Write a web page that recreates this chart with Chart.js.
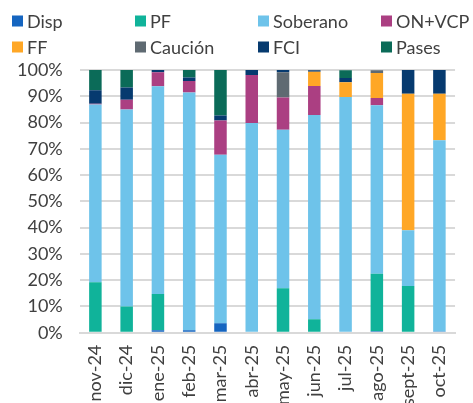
<!DOCTYPE html>
<html>
<head>
<meta charset="utf-8">
<script src="https://cdn.jsdelivr.net/npm/chart.js@4/dist/chart.umd.min.js"></script>
<style>
  html, body { margin: 0; padding: 0; background: #fff; overflow: hidden; }
  #wrap { position: absolute; left: 0; top: 0; width: 473px; height: 418px; }
</style>
</head>
<body>
<div id="wrap"><canvas id="chart"></canvas></div>
<script>
// categories (months)
const months = ["nov-24", "dic-24", "ene-25", "feb-25", "mar-25", "abr-25",
  "may-25", "jun-25", "jul-25", "ago-25", "sept-25", "oct-25"];

// share of each instrument, % of total (bottom to top)
const disp     = [0, 0, 0.9, 0.9, 3.6, 0, 0, 0, 0, 0.6, 0, 0.5];
const pf       = [19.2, 10, 13.8, 0, 0, 0, 16.9, 5.1, 0, 21.8, 17.8, 0];
const soberano = [67.7, 75, 79.1, 90.5, 64.1, 79.8, 60.4, 77.8, 89.7, 64.2, 21.2, 72.8];
const onVcp    = [0.3, 3.7, 5.3, 4.4, 13.1, 18.3, 12.2, 11, 0, 2.7, 0, 0];
const ff       = [0, 0, 0, 0, 0, 0, 0, 5.4, 5.6, 9.6, 52, 17.7];
const caucion  = [0, 0, 0, 0, 0, 0, 9.6, 0, 0, 1, 0, 0];
const fci      = [5.1, 4.6, 0.9, 1.3, 1.9, 1.9, 0.9, 0.6, 1.7, 0, 9, 9];
const pases    = [7.7, 6.7, 0, 2.9, 17.3, 0, 0, 0, 2.9, 0, 0, 0];

// y axis ticks
const yTicks = [0, 10, 20, 30, 40, 50, 60, 70, 80, 90, 100];

const FONT = "Lato, 'Open Sans', sans-serif";
const TEXT = "#404040";

const series = [
  { label: "Disp", data: disp, color: "#1565c0" },
  { label: "PF", data: pf, color: "#10b39a" },
  { label: "Soberano", data: soberano, color: "#6ec3ea" },
  { label: "ON+VCP", data: onVcp, color: "#ab3f82" },
  { label: "FF", data: ff, color: "#ffa726" },
  { label: "Caución", data: caucion, color: "#5f6a72" },
  { label: "FCI", data: fci, color: "#063a6f" },
  { label: "Pases", data: pases, color: "#0b6b58" },
];

// legend drawn as a 4-column grid
const gridLegend = {
  id: "gridLegend",
  afterDraw(chart) {
    const ctx = chart.ctx;
    ctx.save();
    ctx.font = "18px " + FONT;
    ctx.textBaseline = "middle";
    chart.data.datasets.forEach((ds, i) => {
      const col = i % 4;
      const row = Math.floor(i / 4);
      const x = 12 + col * 123;
      const y = 21 + row * 26;
      ctx.fillStyle = ds.backgroundColor;
      ctx.fillRect(x, y - 5.5, 11, 11);
      ctx.fillStyle = TEXT;
      ctx.fillText(ds.label, x + 15, y + 1);
    });
    ctx.restore();
  }
};

const ctx = document.getElementById("chart").getContext("2d");
new Chart(ctx, {
  type: "bar",
  data: {
    labels: months,
    datasets: series.map((s) => ({
      label: s.label,
      data: s.data,
      backgroundColor: s.color,
      borderWidth: 0,
      categoryPercentage: 1,
      barPercentage: 0.4,
    })),
  },
  options: {
    responsive: true,
    maintainAspectRatio: false,
    animation: false,
    layout: { padding: { top: 70, right: 0, left: 0, bottom: 0 } },
    plugins: {
      legend: { display: false },
      tooltip: { enabled: false },
    },
    scales: {
      x: {
        stacked: true,
        grid: { display: false, drawTicks: false },
        border: { color: "#d9d9d9", width: 2 },
        ticks: {
          color: TEXT,
          font: { family: FONT, size: 18 },
          minRotation: 90,
          maxRotation: 90,
          padding: 12,
          autoSkip: false,
        },
      },
      y: {
        stacked: true,
        min: 0,
        max: 100,
        afterBuildTicks: (axis) => {
          axis.ticks = yTicks.map((v) => ({ value: v }));
        },
        grid: { color: "#d9d9d9", lineWidth: 2, drawTicks: false },
        border: { display: false },
        ticks: {
          color: TEXT,
          font: { family: FONT, size: 18 },
          padding: 17,
          callback: (v) => v + "%",
        },
      },
    },
  },
  plugins: [gridLegend],
});
</script>
</body>
</html>
